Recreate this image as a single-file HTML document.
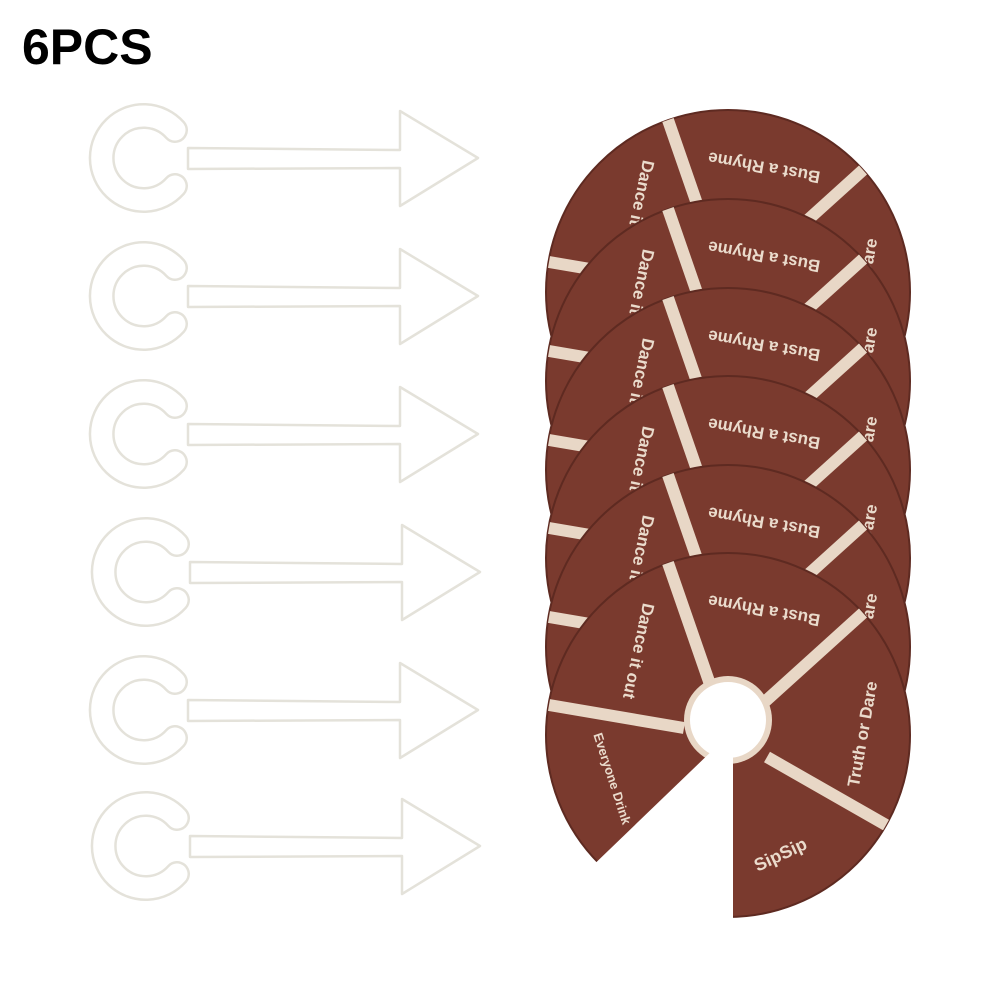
<!DOCTYPE html>
<html><head><meta charset="utf-8"><style>
html,body{margin:0;padding:0;background:#fff;width:1001px;height:1001px;overflow:hidden}
svg{display:block}
</style></head><body>
<svg width="1001" height="1001" viewBox="0 0 1001 1001" xmlns="http://www.w3.org/2000/svg">
<text x="22" y="64" font-family="Liberation Sans, sans-serif" font-size="50" font-weight="bold" fill="#000">6PCS</text>

<g id="arrows" fill="#fff" stroke="#e4e2da" stroke-width="2.5" stroke-linejoin="round">
  <g transform="translate(0,0)">
    <path d="M 175 130 A 42 42 0 1 0 175 186" fill="none" stroke="#e4e2da" stroke-width="26" stroke-linecap="round"/>
    <path d="M 175 130 A 42 42 0 1 0 175 186" fill="none" stroke="#fff" stroke-width="21" stroke-linecap="round"/>
    <path d="M188 148 L400 150 L400 111 L478 158 L400 206 L400 168 L188 169 Z"/>
  </g>
  <g transform="translate(0,138)">
    <path d="M 175 130 A 42 42 0 1 0 175 186" fill="none" stroke="#e4e2da" stroke-width="26" stroke-linecap="round"/>
    <path d="M 175 130 A 42 42 0 1 0 175 186" fill="none" stroke="#fff" stroke-width="21" stroke-linecap="round"/>
    <path d="M188 148 L400 150 L400 111 L478 158 L400 206 L400 168 L188 169 Z"/>
  </g>
  <g transform="translate(0,276)">
    <path d="M 175 130 A 42 42 0 1 0 175 186" fill="none" stroke="#e4e2da" stroke-width="26" stroke-linecap="round"/>
    <path d="M 175 130 A 42 42 0 1 0 175 186" fill="none" stroke="#fff" stroke-width="21" stroke-linecap="round"/>
    <path d="M188 148 L400 150 L400 111 L478 158 L400 206 L400 168 L188 169 Z"/>
  </g>
  <g transform="translate(2,414)">
    <path d="M 175 130 A 42 42 0 1 0 175 186" fill="none" stroke="#e4e2da" stroke-width="26" stroke-linecap="round"/>
    <path d="M 175 130 A 42 42 0 1 0 175 186" fill="none" stroke="#fff" stroke-width="21" stroke-linecap="round"/>
    <path d="M188 148 L400 150 L400 111 L478 158 L400 206 L400 168 L188 169 Z"/>
  </g>
  <g transform="translate(0,552)">
    <path d="M 175 130 A 42 42 0 1 0 175 186" fill="none" stroke="#e4e2da" stroke-width="26" stroke-linecap="round"/>
    <path d="M 175 130 A 42 42 0 1 0 175 186" fill="none" stroke="#fff" stroke-width="21" stroke-linecap="round"/>
    <path d="M188 148 L400 150 L400 111 L478 158 L400 206 L400 168 L188 169 Z"/>
  </g>
  <g transform="translate(2,688)">
    <path d="M 175 130 A 42 42 0 1 0 175 186" fill="none" stroke="#e4e2da" stroke-width="26" stroke-linecap="round"/>
    <path d="M 175 130 A 42 42 0 1 0 175 186" fill="none" stroke="#fff" stroke-width="21" stroke-linecap="round"/>
    <path d="M188 148 L400 150 L400 111 L478 158 L400 206 L400 168 L188 169 Z"/>
  </g>
</g>

<g font-family="Liberation Sans, sans-serif" fill="#eadbcc" font-size="17" font-weight="bold">
<g transform="translate(728,292)">
  <circle r="182" fill="#7a3a2e" stroke="#5e2a21" stroke-width="2"/>
  <g stroke="#e8d7c6" stroke-width="12">
    <line x1="-15" y1="-42" x2="-60" y2="-172"/><line x1="31" y1="-28" x2="135" y2="-122"/>
    <line x1="-44" y1="-7" x2="-179" y2="-30"/><line x1="39" y1="22" x2="158" y2="90"/>
  </g>
  <text transform="translate(37,-130) rotate(190)" text-anchor="middle">Bust a Rhyme</text>
  <text transform="translate(-95,-85) rotate(102)" text-anchor="middle">Dance it out</text>
  <text transform="translate(140,0) rotate(-80)" text-anchor="middle">Truth or Dare</text>
</g>
<g transform="translate(728,381)">
  <circle r="182" fill="#7a3a2e" stroke="#5e2a21" stroke-width="2"/>
  <g stroke="#e8d7c6" stroke-width="12">
    <line x1="-15" y1="-42" x2="-60" y2="-172"/><line x1="31" y1="-28" x2="135" y2="-122"/>
    <line x1="-44" y1="-7" x2="-179" y2="-30"/><line x1="39" y1="22" x2="158" y2="90"/>
  </g>
  <text transform="translate(37,-130) rotate(190)" text-anchor="middle">Bust a Rhyme</text>
  <text transform="translate(-95,-85) rotate(102)" text-anchor="middle">Dance it out</text>
  <text transform="translate(140,0) rotate(-80)" text-anchor="middle">Truth or Dare</text>
</g>
<g transform="translate(728,470)">
  <circle r="182" fill="#7a3a2e" stroke="#5e2a21" stroke-width="2"/>
  <g stroke="#e8d7c6" stroke-width="12">
    <line x1="-15" y1="-42" x2="-60" y2="-172"/><line x1="31" y1="-28" x2="135" y2="-122"/>
    <line x1="-44" y1="-7" x2="-179" y2="-30"/><line x1="39" y1="22" x2="158" y2="90"/>
  </g>
  <text transform="translate(37,-130) rotate(190)" text-anchor="middle">Bust a Rhyme</text>
  <text transform="translate(-95,-85) rotate(102)" text-anchor="middle">Dance it out</text>
  <text transform="translate(140,0) rotate(-80)" text-anchor="middle">Truth or Dare</text>
</g>
<g transform="translate(728,558)">
  <circle r="182" fill="#7a3a2e" stroke="#5e2a21" stroke-width="2"/>
  <g stroke="#e8d7c6" stroke-width="12">
    <line x1="-15" y1="-42" x2="-60" y2="-172"/><line x1="31" y1="-28" x2="135" y2="-122"/>
    <line x1="-44" y1="-7" x2="-179" y2="-30"/><line x1="39" y1="22" x2="158" y2="90"/>
  </g>
  <text transform="translate(37,-130) rotate(190)" text-anchor="middle">Bust a Rhyme</text>
  <text transform="translate(-95,-85) rotate(102)" text-anchor="middle">Dance it out</text>
  <text transform="translate(140,0) rotate(-80)" text-anchor="middle">Truth or Dare</text>
</g>
<g transform="translate(728,647)">
  <circle r="182" fill="#7a3a2e" stroke="#5e2a21" stroke-width="2"/>
  <g stroke="#e8d7c6" stroke-width="12">
    <line x1="-15" y1="-42" x2="-60" y2="-172"/><line x1="31" y1="-28" x2="135" y2="-122"/>
    <line x1="-44" y1="-7" x2="-179" y2="-30"/><line x1="39" y1="22" x2="158" y2="90"/>
  </g>
  <text transform="translate(37,-130) rotate(190)" text-anchor="middle">Bust a Rhyme</text>
  <text transform="translate(-95,-85) rotate(102)" text-anchor="middle">Dance it out</text>
  <text transform="translate(140,0) rotate(-80)" text-anchor="middle">Truth or Dare</text>
</g>
<g transform="translate(728,735)">
  <circle r="182" fill="#7a3a2e" stroke="#5e2a21" stroke-width="2"/>
  <g stroke="#e8d7c6" stroke-width="12">
    <line x1="-15" y1="-42" x2="-60" y2="-172"/><line x1="31" y1="-28" x2="135" y2="-122"/>
    <line x1="-44" y1="-7" x2="-179" y2="-30"/><line x1="39" y1="22" x2="158" y2="90"/>
  </g>
  <text transform="translate(37,-130) rotate(190)" text-anchor="middle">Bust a Rhyme</text>
  <text transform="translate(-95,-85) rotate(102)" text-anchor="middle">Dance it out</text>
  <text transform="translate(140,0) rotate(-80)" text-anchor="middle">Truth or Dare</text>
  <text transform="translate(55,125) rotate(-25)" text-anchor="middle" font-size="18">SipSip</text>
  <text transform="translate(-120,45) rotate(72)" text-anchor="middle" font-size="13">Everyone Drink</text>
  <circle cx="0" cy="-15" r="44" fill="#e8d7c6"/>
  <circle cx="0" cy="-15" r="38" fill="#fff"/>
  <polygon points="-2,-50 -10,10 -145,140 -110,200 5,200 5,-50" fill="#fff"/>
</g>
</g>
</svg>
</body></html>
